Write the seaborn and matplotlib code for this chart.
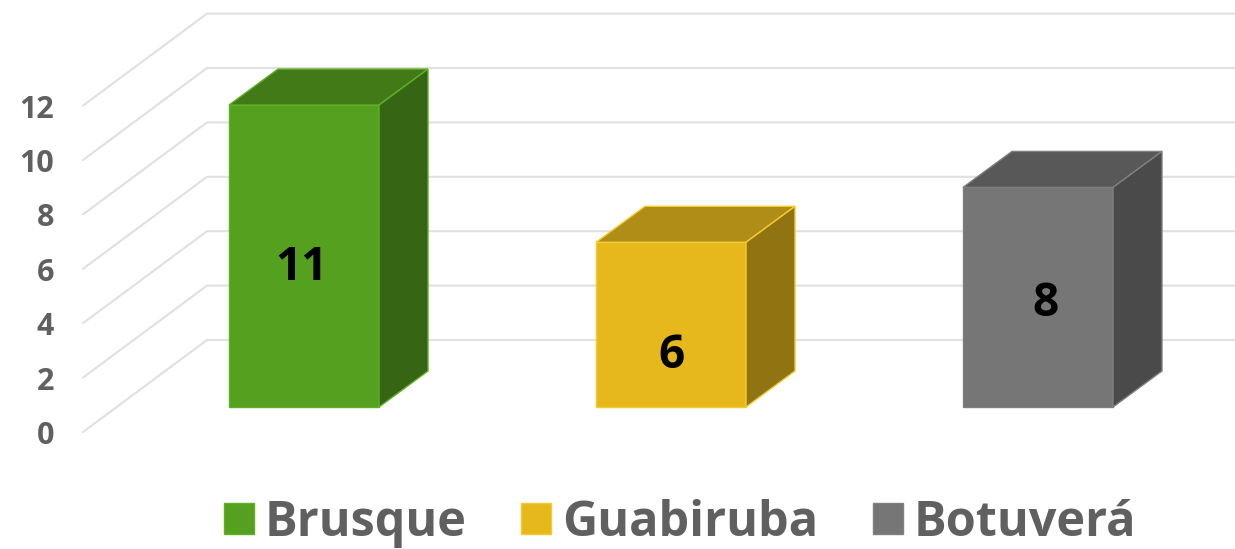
import matplotlib
matplotlib.use('Agg')
import matplotlib.pyplot as plt
from matplotlib.patches import Polygon
import seaborn as sns

cities = ['Brusque', 'Guabiruba', 'Botuverá']
counts = [11, 6, 8]
ticks = [0, 2, 4, 6, 8, 10, 12]

front_colors = ['#56A020', '#E6B81C', '#767676']
top_colors = ['#437A18', '#AF8D16', '#585858']
side_colors = ['#366614', '#917412', '#4A4A4A']
edge_colors = ['#5FB024', '#F5CB30', '#808080']

# px per category / per value, the 3d look is only an offset in data units
PX_X = 367.0
PX_Y = 27.45
PX_WALL = 27.2
BAR_X = 304.0
BAR_Y = 407.0
bar_dx, bar_dy = 49 / PX_X, 36 / PX_Y

sns.set_theme(style='white')
plt.rcParams['font.family'] = ['Open Sans', 'DejaVu Sans']

fig = plt.figure(figsize=(12.35, 5.49), dpi=100)
ax = fig.add_axes([0, 0, 1, 1])

sns.barplot(x=cities, y=counts, hue=cities, palette=front_colors, width=150 / PX_X,
            saturation=1, legend=False, ax=ax, zorder=3)

ax.set_xlim(-BAR_X / PX_X, (1235 - BAR_X) / PX_X)
ax.set_ylim((BAR_Y - 549) / PX_Y, BAR_Y / PX_Y)
ax.axis('off')

# walls
wall_x0, wall_x1 = (83 - BAR_X) / PX_X, (207 - BAR_X) / PX_X
wall_y0, wall_y1 = (BAR_Y - 432) / PX_Y, (BAR_Y - 340) / PX_Y
x_end = (1235 - BAR_X) / PX_X
for t in ticks:
    step = t * PX_WALL / PX_Y
    ax.plot([wall_x0, wall_x1, x_end], [wall_y0 + step, wall_y1 + step, wall_y1 + step],
            color='#E0E0E0', lw=1.5, zorder=1, solid_joinstyle='miter')
    ax.text((54 - BAR_X) / PX_X, wall_y0 + step - 4 / PX_Y, str(t), ha='right', va='center',
            fontsize=22, color='#606060', fontweight='bold')

bars = list(ax.patches)
for bar, top_c, side_c, edge_c in zip(bars, top_colors, side_colors, edge_colors):
    x0 = bar.get_x()
    x1 = x0 + bar.get_width()
    h = bar.get_height()
    bar.set_edgecolor(edge_c)
    bar.set_linewidth(1)
    ax.add_patch(Polygon([(x0, h), (x1, h), (x1 + bar_dx, h + bar_dy), (x0 + bar_dx, h + bar_dy)],
                         fc=top_c, ec=edge_c, lw=1, zorder=3))
    ax.add_patch(Polygon([(x1, 0), (x1 + bar_dx, bar_dy), (x1 + bar_dx, h + bar_dy), (x1, h)],
                         fc=side_c, ec=edge_c, lw=1, zorder=3))

# labels do not sit at the middle of the bars in the original
label_x = [-2 / PX_X, 0, 7 / PX_X]
label_y = [(BAR_Y - 268) / PX_Y, (BAR_Y - 355) / PX_Y, (BAR_Y - 303) / PX_Y]
for i, c in enumerate(counts):
    ax.text(i + label_x[i], label_y[i], str(c), ha='center', va='center', fontsize=33,
            color='black', fontweight='bold', zorder=5)

ax.legend(bars, cities, loc='center', bbox_to_anchor=(680 / 1235, 1 - 523 / 549), ncol=3,
          frameon=False, labelcolor='#606060', handlelength=0.62, handleheight=0.62,
          handletextpad=0.22, columnspacing=1.12, borderpad=0,
          prop={'weight': 'bold', 'size': 35})

fig.savefig('out.png', dpi=100)
